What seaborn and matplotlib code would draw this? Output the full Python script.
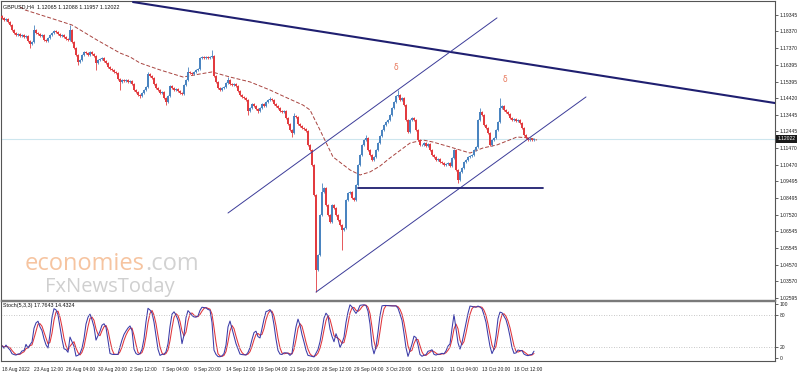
import numpy as np
import pandas as pd
import matplotlib
matplotlib.use("Agg")
import matplotlib.pyplot as plt
import matplotlib.transforms as mtransforms
import seaborn as sns

# ---------------- data ----------------
title_text = "GBPUSD,H4  1.12065 1.12088 1.11957 1.12022"
stoch_title = "Stoch(5,3,3) 17.7643 14.4324"

first_open = 1.1928
closes = [
    1.1916, 1.1905, 1.1911, 1.1893, 1.1875, 1.1845, 1.1828, 1.1816, 1.1822, 1.1810,
    1.1816, 1.1804, 1.1810, 1.1780, 1.1763, 1.1774, 1.1845, 1.1828, 1.1822, 1.1810,
    1.1816, 1.1786, 1.1780, 1.1798, 1.1816, 1.1828, 1.1839, 1.1833, 1.1822, 1.1810,
    1.1816, 1.1804, 1.1792, 1.1786, 1.1845, 1.1774, 1.1739, 1.1697, 1.1656, 1.1668,
    1.1697, 1.1715, 1.1709, 1.1697, 1.1715, 1.1703, 1.1692, 1.1650, 1.1668, 1.1674,
    1.1680, 1.1662, 1.1650, 1.1626, 1.1615, 1.1609, 1.1597, 1.1591, 1.1555, 1.1538,
    1.1549, 1.1543, 1.1549, 1.1538, 1.1543, 1.1526, 1.1490, 1.1478, 1.1461, 1.1455,
    1.1472, 1.1490, 1.1508, 1.1585, 1.1573, 1.1561, 1.1526, 1.1502, 1.1490, 1.1472,
    1.1478, 1.1443, 1.1419, 1.1455, 1.1514, 1.1502, 1.1490, 1.1496, 1.1484, 1.1472,
    1.1467, 1.1520, 1.1549, 1.1597, 1.1591, 1.1585, 1.1597, 1.1609, 1.1615, 1.1680,
    1.1686, 1.1680, 1.1686, 1.1680, 1.1686, 1.1692, 1.1573, 1.1538, 1.1502, 1.1490,
    1.1502, 1.1508, 1.1532, 1.1549, 1.1526, 1.1520, 1.1526, 1.1514, 1.1484, 1.1461,
    1.1449, 1.1443, 1.1431, 1.1366, 1.1384, 1.1407, 1.1396, 1.1378, 1.1366, 1.1384,
    1.1407, 1.1396, 1.1419, 1.1431, 1.1437, 1.1431, 1.1407, 1.1396, 1.1384, 1.1366,
    1.1360, 1.1366, 1.1324, 1.1289, 1.1253, 1.1236, 1.1336, 1.1330, 1.1289, 1.1277,
    1.1265, 1.1259, 1.1248, 1.1165, 1.1135, 1.1046, 1.0869, 1.0425, 1.0513, 1.0750,
    1.0886, 1.0910, 1.0809, 1.0750, 1.0709, 1.0809, 1.0792, 1.0750, 1.0721, 1.0691,
    1.0661, 1.0673, 1.0839, 1.0880, 1.0886, 1.0851, 1.0839, 1.0928, 1.1046, 1.1105,
    1.1165, 1.1194, 1.1206, 1.1135, 1.1105, 1.1076, 1.1094, 1.1135, 1.1176, 1.1218,
    1.1253, 1.1283, 1.1301, 1.1313, 1.1342, 1.1384, 1.1419, 1.1455, 1.1461, 1.1431,
    1.1443, 1.1401, 1.1313, 1.1242, 1.1313, 1.1324, 1.1313, 1.1253, 1.1194, 1.1165,
    1.1165, 1.1176, 1.1159, 1.1171, 1.1135, 1.1105, 1.1094, 1.1076, 1.1082, 1.1064,
    1.1058, 1.1046, 1.1052, 1.1058, 1.1040, 1.1088, 1.1135, 1.1017, 1.0957, 1.1005,
    1.1028, 1.1064, 1.1076, 1.1094, 1.1100, 1.1105, 1.1135, 1.1153, 1.1313, 1.1360,
    1.1342, 1.1283, 1.1265, 1.1236, 1.1165, 1.1194, 1.1206, 1.1253, 1.1301, 1.1384,
    1.1396, 1.1372, 1.1360, 1.1348, 1.1324, 1.1313, 1.1319, 1.1307, 1.1313, 1.1295,
    1.1265, 1.1224, 1.1206, 1.1194, 1.1200, 1.1194, 1.12022,
]
wick = 0.0005
hi_idx = [16, 34, 73, 93, 105, 113, 134, 146, 160, 182, 198, 239, 249]
hi_val = [1.1875, 1.1875, 1.1597, 1.1626, 1.1727, 1.1567, 1.1449, 1.1354,
          1.0940, 1.1224, 1.1490, 1.1384, 1.1443]
lo_idx = [14, 38, 47, 59, 69, 82, 123, 128, 145, 157, 170, 228]
lo_val = [1.1739, 1.1638, 1.1609, 1.1490, 1.1443, 1.1401, 1.1342, 1.1354,
          1.1212, 1.0294, 1.0543, 1.0940]

ma_idx = [9, 11.5, 24, 35, 47.5, 59, 64, 69, 79, 90.5, 99, 105, 114, 124, 134,
          141.5, 150.5, 154, 159, 165.5, 174, 179, 184, 189, 194, 204, 210.5,
          215.5, 224, 234, 240.5, 247.5, 257.5, 264, 267.5]
ma_val = [1.1982, 1.1964, 1.1917, 1.1875, 1.1786, 1.1709, 1.1686, 1.1650, 1.1609,
          1.1567, 1.1585, 1.1597, 1.1567, 1.1538, 1.1490, 1.1449, 1.1401, 1.1372,
          1.1253, 1.1094, 1.1017, 1.0987, 1.1005, 1.1040, 1.1088, 1.1176, 1.1194,
          1.1182, 1.1153, 1.1117, 1.1147, 1.1165, 1.1212, 1.1206, 1.1194]

price_ticks = [1.19345, 1.18370, 1.17370, 1.16395, 1.15395, 1.14420, 1.13445,
               1.12445, 1.11470, 1.10470, 1.09495, 1.08495, 1.07520, 1.06545,
               1.05545, 1.04570, 1.03570, 1.02595]
stoch_ticks = [100, 80, 20, 0]
x_labels = ["18 Aug 2022", "23 Aug 12:00", "26 Aug 04:00", "30 Aug 20:00",
            "2 Sep 12:00", "7 Sep 04:00", "9 Sep 20:00", "14 Sep 12:00",
            "19 Sep 04:00", "21 Sep 20:00", "26 Sep 12:00", "29 Sep 04:00",
            "3 Oct 20:00", "6 Oct 12:00", "11 Oct 04:00", "13 Oct 20:00",
            "18 Oct 12:00"]
bars_per_label = 16

trend_long_x = [65.5, 386.5]
trend_long_y = [1.2011, 1.1413]
chan_up_x = [113, 247.5]
chan_up_y = [1.0762, 1.1917]
chan_lo_x = [157, 292]
chan_lo_y = [1.0294, 1.1449]
support_x = [178, 270.5]
support_y = [1.0911, 1.0911]
fractal_x = [197, 251.5]
fractal_y = [1.1621, 1.1550]
bid = 1.12022

# ---------------- derived series ----------------
c = np.array(closes)
n = len(c)
idx = np.arange(n)
o = np.concatenate([[first_open], c[:-1]])
h = np.maximum(o, c) + wick
l = np.minimum(o, c) - wick
for i, v in zip(hi_idx, hi_val):
    h[i] = max(h[i], v)
for i, v in zip(lo_idx, lo_val):
    l[i] = min(l[i], v)

df = pd.DataFrame({"i": idx, "o": o, "h": h, "l": l, "c": c})
ll = df.l.rolling(5, min_periods=1).min()
hh = df.h.rolling(5, min_periods=1).max()
num = (df.c - ll).rolling(3, min_periods=1).sum()
den = (hh - ll).rolling(3, min_periods=1).sum()
df["k"] = 100 * num / den
df["d"] = df.k.rolling(3, min_periods=1).mean()

# ---------------- figure ----------------
sns.set_style("white")
plt.rcParams["font.family"] = ["Liberation Sans", "DejaVu Sans"]
W, H = 798, 372
fig = plt.figure(figsize=(W / 100, H / 100), dpi=100)
fig.patch.set_facecolor("white")
ax1 = fig.add_axes([1 / W, 1 - 300 / H, 774 / W, 299 / H])
ax2 = fig.add_axes([1 / W, 1 - 361 / H, 774 / W, 60 / H])

UP, DN = "#4a84c0", "#e23b3f"
cols = np.where(c >= o, UP, DN)
ax1.axhline(bid, color="#cde6ee", lw=0.8, zorder=1)
ax1.vlines(idx, l, h, colors=cols, lw=0.6, zorder=3)
body = np.maximum(np.abs(c - o), 0.00025)
ax1.bar(idx, body, bottom=np.minimum(o, c), width=0.8, color=cols, lw=0, zorder=4)

sns.lineplot(x=ma_idx, y=ma_val, ax=ax1, color="#a8433f", lw=0.7,
             linestyle=(0, (4, 2)), zorder=2)

ax1.plot(trend_long_x, trend_long_y, color="#1f1f70", lw=1.5, zorder=5)
ax1.plot(chan_up_x, chan_up_y, color="#3b3b98", lw=0.7, zorder=5)
ax1.plot(chan_lo_x, chan_lo_y, color="#3b3b98", lw=0.7, zorder=5)
ax1.plot(support_x, support_y, color="#1f1f70", lw=1.3, zorder=5)
for fx, fy in zip(fractal_x, fractal_y):
    ax1.text(fx, fy, "δ", color="#e8785c", fontsize=5.5, ha="center", va="center",
             family="DejaVu Sans", zorder=6)

LS = 3.6
ax1.set_xlim(-0.5, 386.5)
ax1.set_ylim(1.0247, 1.2017)
ax1.set_xticks([])
ax1.yaxis.tick_right()
ax1.set_yticks(price_ticks)
ax1.set_yticklabels([f"{v:.5f}" for v in price_ticks])
ax1.tick_params(axis="y", right=True, left=False, length=2, width=0.5, pad=1.2,
                labelsize=LS, colors="#222222")
ax1.set_xlabel("")
ax1.set_ylabel("")
for s in ["left", "top", "right"]:
    ax1.spines[s].set_color("#555555")
    ax1.spines[s].set_linewidth(0.8)
ax1.spines["bottom"].set_color("#7a7a7a")
ax1.spines["bottom"].set_linewidth(1.0)

trans = mtransforms.blended_transform_factory(ax1.transAxes, ax1.transData)
ax1.text(1.003, bid, f"{bid:.5f}", transform=trans, color="white", fontsize=LS,
         va="center", ha="left",
         bbox=dict(boxstyle="square,pad=0.3", fc="#1a1a1a", ec="none"), zorder=10,
         clip_on=False)
ax1.text(0.003, 0.988, title_text, transform=ax1.transAxes, fontsize=3.9,
         color="#111111", va="top", ha="left", zorder=10)

# stochastic
sns.lineplot(data=df, x="i", y="d", ax=ax2, color="#e0353b", lw=0.75)
sns.lineplot(data=df, x="i", y="k", ax=ax2, color="#3b3ba8", lw=0.75)
for lv in (80, 20):
    ax2.axhline(lv, color="#b5b5b5", lw=0.6, ls=(0, (1, 2)))
ax2.set_xlim(-0.5, 386.5)
ax2.set_ylim(-5.6, 105.6)
ax2.yaxis.tick_right()
ax2.set_yticks(stoch_ticks)
ax2.set_yticklabels([str(v) for v in stoch_ticks])
ax2.tick_params(axis="y", right=True, left=False, length=2, width=0.5, pad=1.2,
                labelsize=LS, colors="#222222")
xt = [k * bars_per_label for k in range(len(x_labels))]
ax2.set_xticks(xt)
ax2.set_xticklabels(x_labels)
ax2.tick_params(axis="x", length=3, width=0.5, pad=1, labelsize=3.5, colors="#222222")
for lbl in ax2.get_xticklabels():
    lbl.set_ha("left")
ax2.set_xlabel("")
ax2.set_ylabel("")
for s in ["left", "bottom", "right"]:
    ax2.spines[s].set_color("#555555")
    ax2.spines[s].set_linewidth(0.8)
ax2.spines["top"].set_color("#7a7a7a")
ax2.spines["top"].set_linewidth(1.0)
ax2.text(0.003, 0.97, stoch_title, transform=ax2.transAxes, fontsize=3.9,
         color="#111111", va="top", ha="left")

# watermark logo
t1 = fig.text(25 / W, 1 - 270 / H, "economies", fontsize=17, color="#f6c4a0",
              family="Open Sans", va="baseline", ha="left", zorder=0)
fig.canvas.draw()
bb = t1.get_window_extent()
fig.text(bb.x1 / W, 1 - 270 / H, ".com", fontsize=17, color="#d2d2d2",
         family="Open Sans", va="baseline", ha="left", zorder=0)
fig.text(45 / W, 1 - 292 / H, "FxNewsToday", fontsize=14.5, color="#cfcfcf",
         family="Open Sans", va="baseline", ha="left", zorder=0)

fig.savefig("out.png", dpi=100, facecolor="white")
